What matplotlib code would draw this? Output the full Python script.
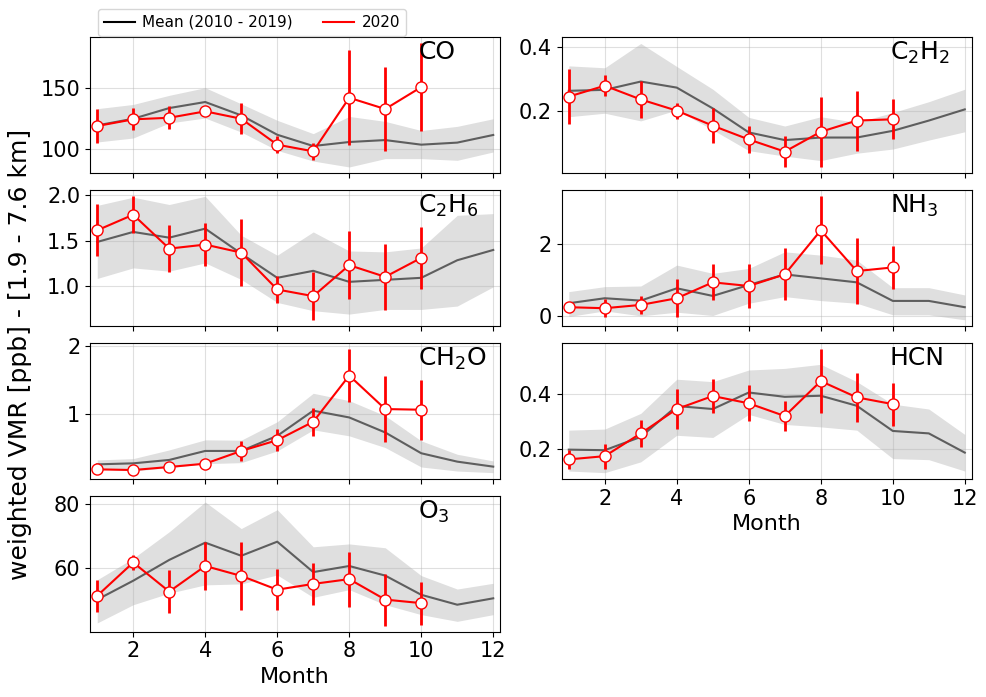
import matplotlib.pyplot as plt
from matplotlib.lines import Line2D
import numpy as np

months = np.arange(1, 13)
months_2020 = np.arange(1, 11)

# CO
co_mean = [119.2, 124.7, 133.5, 138.5, 127.5, 111.5, 102.2, 105.5, 107.1, 103.3, 105.0, 111.3]
co_hi = [133.0, 136.5, 144.0, 150.3, 137.0, 123.4, 112.4, 126.6, 122.5, 115.0, 118.4, 124.7]
co_lo = [105.5, 108.8, 121.2, 125.3, 113.7, 98.6, 89.8, 84.9, 91.8, 91.8, 90.4, 97.3]
co_2020 = [118.7, 124.2, 125.5, 130.8, 124.7, 103.3, 97.8, 142.0, 132.7, 150.8]
co_err = [14.0, 9.0, 9.5, 3.0, 13.0, 7.0, 7.0, 39.0, 35.0, 36.0]

# C2H2
c2h2_mean = [0.264, 0.267, 0.293, 0.274, 0.209, 0.134, 0.110, 0.118, 0.118, 0.139, 0.171, 0.206]
c2h2_hi = [0.342, 0.336, 0.412, 0.340, 0.269, 0.181, 0.154, 0.183, 0.165, 0.196, 0.230, 0.269]
c2h2_lo = [0.183, 0.194, 0.170, 0.204, 0.142, 0.077, 0.060, 0.046, 0.069, 0.082, 0.110, 0.136]
c2h2_2020 = [0.246, 0.280, 0.237, 0.202, 0.155, 0.112, 0.074, 0.136, 0.171, 0.175]
c2h2_err = [0.087, 0.033, 0.057, 0.025, 0.054, 0.043, 0.048, 0.110, 0.094, 0.062]

# C2H6
c2h6_mean = [1.489, 1.599, 1.536, 1.635, 1.361, 1.095, 1.172, 1.051, 1.073, 1.095, 1.288, 1.401]
c2h6_hi = [1.89, 1.98, 1.90, 1.99, 1.562, 1.343, 1.599, 1.39, 1.38, 1.423, 1.781, 1.80]
c2h6_lo = [1.088, 1.204, 1.168, 1.259, 1.077, 0.825, 0.734, 0.697, 0.748, 0.748, 0.785, 0.996]
c2h6_2020 = [1.617, 1.788, 1.416, 1.460, 1.372, 0.967, 0.894, 1.234, 1.106, 1.314]
c2h6_err = [0.286, 0.20, 0.255, 0.24, 0.37, 0.15, 0.26, 0.37, 0.365, 0.34]

# NH3
nh3_mean = [0.367, 0.505, 0.44, 0.78, 0.569, 0.872, 1.165, 1.055, 0.945, 0.431, 0.431, 0.257]
nh3_hi = [0.688, 0.826, 0.844, 1.422, 1.193, 1.33, 1.789, 1.697, 1.56, 0.798, 0.798, 0.596]
nh3_lo = [0.0, 0.156, 0.018, 0.119, 0.028, 0.367, 0.55, 0.44, 0.367, 0.046, 0.046, -0.092]
nh3_2020 = [0.257, 0.229, 0.321, 0.505, 0.945, 0.844, 1.165, 2.385, 1.257, 1.358]
nh3_err = [0.04, 0.25, 0.25, 0.52, 0.50, 0.60, 0.72, 0.94, 0.92, 0.60]

# CH2O
ch2o_mean = [0.257, 0.272, 0.322, 0.455, 0.455, 0.678, 1.05, 0.95, 0.728, 0.421, 0.297, 0.223]
ch2o_hi = [0.322, 0.342, 0.47, 0.619, 0.614, 0.886, 1.307, 1.198, 0.975, 0.604, 0.406, 0.307]
ch2o_lo = [0.193, 0.158, 0.208, 0.267, 0.282, 0.455, 0.767, 0.678, 0.505, 0.218, 0.158, 0.134]
ch2o_2020 = [0.183, 0.173, 0.218, 0.267, 0.455, 0.614, 0.886, 1.569, 1.074, 1.064]
ch2o_err = [0.02, 0.02, 0.02, 0.02, 0.15, 0.16, 0.21, 0.39, 0.49, 0.44]

# HCN
hcn_mean = [0.196, 0.194, 0.243, 0.357, 0.346, 0.407, 0.391, 0.395, 0.358, 0.265, 0.256, 0.185]
hcn_hi = [0.268, 0.272, 0.33, 0.456, 0.447, 0.49, 0.496, 0.511, 0.447, 0.364, 0.346, 0.252]
hcn_lo = [0.117, 0.111, 0.151, 0.249, 0.241, 0.326, 0.289, 0.28, 0.268, 0.163, 0.159, 0.117]
hcn_2020 = [0.160, 0.172, 0.256, 0.346, 0.394, 0.367, 0.320, 0.449, 0.389, 0.364]
hcn_err = [0.034, 0.046, 0.051, 0.073, 0.062, 0.066, 0.057, 0.118, 0.091, 0.079]

# O3
o3_mean = [50.2, 56.1, 62.6, 68.0, 63.9, 68.3, 58.8, 60.7, 57.7, 51.7, 48.6, 50.6]
o3_hi = [56.4, 63.1, 71.4, 80.7, 72.4, 78.3, 66.7, 67.6, 66.4, 57.7, 53.5, 55.3]
o3_lo = [42.9, 48.6, 52.2, 54.8, 55.1, 57.9, 50.9, 53.3, 48.6, 45.5, 43.4, 45.5]
o3_2020 = [51.4, 61.8, 52.7, 60.7, 57.6, 53.3, 55.1, 56.6, 50.2, 49.1]
o3_err = [5.0, 2.2, 6.7, 7.5, 10.5, 6.5, 6.5, 8.6, 8.1, 6.7]

panels = [
    ((0, 0), 'CO', co_mean, co_lo, co_hi, co_2020, co_err, [100, 150]),
    ((0, 1), 'C$_2$H$_2$', c2h2_mean, c2h2_lo, c2h2_hi, c2h2_2020, c2h2_err, [0.2, 0.4]),
    ((1, 0), 'C$_2$H$_6$', c2h6_mean, c2h6_lo, c2h6_hi, c2h6_2020, c2h6_err, [1.0, 1.5, 2.0]),
    ((1, 1), 'NH$_3$', nh3_mean, nh3_lo, nh3_hi, nh3_2020, nh3_err, [0, 2]),
    ((2, 0), 'CH$_2$O', ch2o_mean, ch2o_lo, ch2o_hi, ch2o_2020, ch2o_err, [1, 2]),
    ((2, 1), 'HCN', hcn_mean, hcn_lo, hcn_hi, hcn_2020, hcn_err, [0.2, 0.4]),
    ((3, 0), 'O$_3$', o3_mean, o3_lo, o3_hi, o3_2020, o3_err, [60, 80]),
]

fig, axs = plt.subplots(4, 2, figsize=(9.86, 6.97), dpi=100, sharex=True)
fig.subplots_adjust(left=0.0913, right=0.9858, top=0.9465, bottom=0.0937,
                    wspace=0.149, hspace=0.125)
axs[3, 1].remove()

for (r, c), name, mean, lo, hi, v20, e20, yt in panels:
    ax = axs[r, c]
    ax.fill_between(months, lo, hi, color='grey', alpha=0.25, lw=0)
    ax.plot(months, mean, color='0.37', lw=1.5)
    ax.errorbar(months_2020, v20, yerr=e20, color='red', lw=1.5, elinewidth=2,
                marker='o', ms=8, mfc='white', mec='red', mew=1, capsize=0)
    ax.set_yticks(yt)
    ax.grid(alpha=0.4)
    ax.tick_params(labelsize=15)
    ax.text(0.8, 0.98, name, transform=ax.transAxes, fontsize=18, va='top', ha='left')

axs[3, 0].set_xlim(0.8, 12.2)
axs[3, 0].set_xticks([2, 4, 6, 8, 10, 12])
axs[2, 1].tick_params(labelbottom=True)
axs[3, 0].set_xlabel('Month', fontsize=16)
axs[2, 1].set_xlabel('Month', fontsize=16)

fig.text(0.02, 0.492, 'weighted VMR [ppb] - [1.9 - 7.6 km]', rotation=90,
         va='center', ha='center', fontsize=18)

handles = [Line2D([], [], color='black', lw=1.5), Line2D([], [], color='red', lw=1.5)]
fig.legend(handles, ['Mean (2010 - 2019)', '2020'], ncol=2, fontsize=11,
           handletextpad=0.5, columnspacing=2.0,
           loc='lower left', bbox_to_anchor=(98 / 986, 1 - 36 / 697), borderaxespad=0)

fig.savefig('out.png', dpi=100)
